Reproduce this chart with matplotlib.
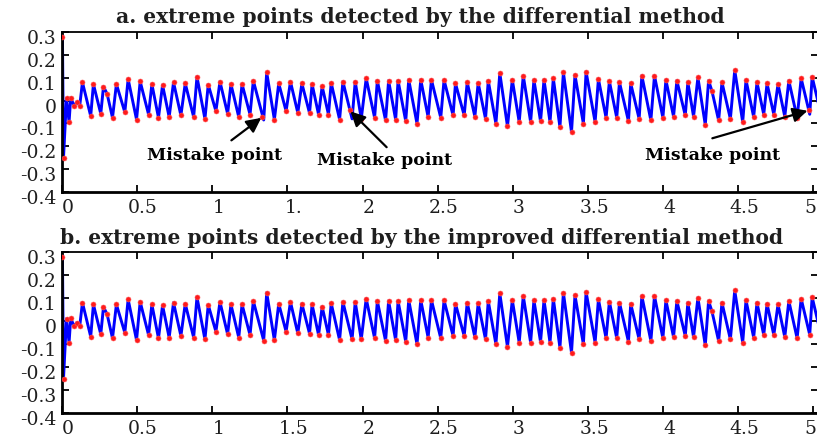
import matplotlib
matplotlib.use('Agg')
import matplotlib.pyplot as plt
import matplotlib.transforms as mtransforms

# ---------------- data ----------------
# true extreme points of the signal (time in s, amplitude)
ext_t = [0.003, 0.010, 0.030, 0.047, 0.058, 0.080, 0.100, 0.118, 0.136,
         0.191, 0.209, 0.258, 0.276, 0.300, 0.336, 0.362, 0.418, 0.440,
         0.496, 0.520, 0.576, 0.598, 0.642, 0.669, 0.713, 0.742, 0.791,
         0.820, 0.876, 0.898, 0.951, 0.973, 1.024, 1.051, 1.102, 1.124,
         1.176, 1.198, 1.251, 1.273, 1.342, 1.362, 1.413, 1.442, 1.491,
         1.520, 1.569, 1.596, 1.647, 1.664, 1.707, 1.731, 1.773, 1.791,
         1.847, 1.869, 1.930, 1.951, 1.991, 2.024, 2.080, 2.098, 2.153,
         2.173, 2.220, 2.236, 2.287, 2.307, 2.362, 2.387, 2.436, 2.458,
         2.520, 2.542, 2.602, 2.618, 2.676, 2.696, 2.747, 2.769, 2.818,
         2.836, 2.887, 2.913, 2.964, 2.996, 3.042, 3.069, 3.118, 3.140,
         3.184, 3.207, 3.247, 3.269, 3.313, 3.336, 3.390, 3.413, 3.469,
         3.487, 3.547, 3.569, 3.620, 3.642, 3.691, 3.709, 3.769, 3.784,
         3.840, 3.858, 3.918, 3.942, 3.998, 4.018, 4.069, 4.091, 4.147,
         4.164, 4.202, 4.231, 4.280, 4.302, 4.324, 4.369, 4.391, 4.447,
         4.476, 4.529, 4.551, 4.602, 4.624, 4.669, 4.691, 4.736, 4.764,
         4.809, 4.836, 4.891, 4.918, 4.975, 4.991]
ext_v = [0.280, -0.250, 0.010, -0.094, 0.012, -0.022, -0.007, -0.022, 0.080,
         -0.068, 0.072, -0.058, 0.061, 0.030, -0.075, 0.072, -0.051, 0.094,
         -0.083, 0.084, -0.061, 0.072, -0.075, 0.068, -0.072, 0.080, -0.065,
         0.075, -0.072, 0.104, -0.080, 0.070, -0.046, 0.083, -0.058, 0.072,
         -0.072, 0.072, -0.061, 0.087, -0.085, 0.123, -0.083, 0.075, -0.046,
         0.083, -0.054, 0.075, -0.055, 0.072, -0.061, 0.062, -0.061, 0.077,
         -0.083, 0.083, -0.080, 0.083, -0.080, 0.097, -0.075, 0.087, -0.087,
         0.087, -0.084, 0.087, -0.090, 0.091, -0.101, 0.091, -0.072, 0.091,
         -0.075, 0.090, -0.065, 0.075, -0.065, 0.080, -0.070, 0.077, -0.080,
         0.087, -0.101, 0.120, -0.113, 0.091, -0.094, 0.109, -0.094, 0.090,
         -0.091, 0.091, -0.094, 0.097, -0.116, 0.123, -0.138, 0.112, -0.101,
         0.126, -0.094, 0.094, -0.075, 0.084, -0.075, 0.080, -0.090, 0.075,
         -0.080, 0.109, -0.087, 0.109, -0.075, 0.090, -0.070, 0.087, -0.065,
         0.080, -0.070, 0.101, -0.106, 0.087, 0.043, -0.087, 0.080, -0.080,
         0.133, -0.094, 0.090, -0.072, 0.080, -0.061, 0.075, -0.061, 0.072,
         -0.070, 0.087, -0.075, 0.097, -0.060, 0.104]
# signal end points
start_t, start_v = 0.0, 0.0
end_t, end_v = 5.03, -0.005

# points wrongly detected by the plain differential method (replace true extrema)
mistake_true_t = [1.342, 1.930, 4.975]
mistake_t = [1.333, 1.913, 4.969]
mistake_v = [-0.072, -0.043, -0.043]

titles = ["a. extreme points detected by the differential method",
          "b. extreme points detected by the improved differential method"]
xticks = [0, 0.5, 1, 1.5, 2, 2.5, 3, 3.5, 4, 4.5, 5]
xlabels_a = ["0", "0.5", "1", "1.", "2", "2.5", "3", "3.5", "4", "4.5", "5"]
xlabels_b = ["0", "0.5", "1", "1.5", "2", "2.5", "3", "3.5", "4", "4.5", "5"]
yticks = [0.3, 0.2, 0.1, 0, -0.1, -0.2, -0.3, -0.4]
ylabels = ["0.3", "0.2", "0.1", "0", "-0.1", "-0.2", "-0.3", "-0.4"]
annot_text = "Mistake point"

# ---------------- figure ----------------
W, H = 817, 438
fig = plt.figure(figsize=(W / 100, H / 100), dpi=100)
SERIF = ['DejaVu Serif', 'Liberation Serif']
TXT = '#1e1e1e'


def ax_rect(left, top, right, bottom):
    return [left / W, 1 - bottom / H, (right - left) / W, (bottom - top) / H]


line_t = [start_t] + ext_t + [end_t]
line_v = [start_v] + ext_v + [end_v]

axes = []
for k, rect in enumerate([ax_rect(62, 32, 818, 192), ax_rect(62, 252, 818, 413)]):
    ax = fig.add_axes(rect)
    ax.plot(line_t, line_v, color='#0000ff', lw=2.1, zorder=2,
            solid_joinstyle='round')
    if k == 0:
        mt, mv = [], []
        for t, v in zip(ext_t, ext_v):
            if t in mistake_true_t:
                i = mistake_true_t.index(t)
                mt.append(mistake_t[i]); mv.append(mistake_v[i])
            else:
                mt.append(t); mv.append(v)
    else:
        mt, mv = ext_t, ext_v
    ax.plot(mt, mv, ls='none', marker='o', ms=3.6, mfc='#ff1a1a', mec='#ff5a5a',
            mew=0.4, zorder=3)
    ax.set_xlim(0, 5.03)
    ax.set_ylim(-0.4, 0.3)
    ax.set_xticks(xticks)
    ax.set_xticklabels(xlabels_a if k == 0 else xlabels_b)
    ax.set_yticks(yticks)
    ax.set_yticklabels(ylabels)
    ax.tick_params(direction='in', top=True, right=True, length=5, width=1.3,
                   labelsize=13.5, colors='black', labelcolor=TXT, pad=3)
    ax.tick_params(axis='x', pad=5)
    for lab in ax.get_xticklabels() + ax.get_yticklabels():
        lab.set_family(SERIF)
    xl = ax.get_xticklabels()
    for j, lab in enumerate(xl):
        dx = 0.06 if j < len(xl) - 1 else -0.035
        lab.set_transform(lab.get_transform() +
                          mtransforms.ScaledTranslation(dx, 0.0, fig.dpi_scale_trans))
    for lab in ax.get_yticklabels():
        lab.set_transform(lab.get_transform() +
                          mtransforms.ScaledTranslation(-0.01, -0.05, fig.dpi_scale_trans))
    for s in ['left', 'bottom']:
        ax.spines[s].set_linewidth(2.0)
    for s in ['top', 'right']:
        ax.spines[s].set_linewidth(1.3)
    axes.append(ax)

fig.text(420 / W, 1 - 17 / H, titles[0], ha='center', va='center',
         family=SERIF, fontweight='bold', fontsize=14.6, color=TXT)
fig.text(422 / W, 1 - 238 / H, titles[1], ha='center', va='center',
         family=SERIF, fontweight='bold', fontsize=14.6, color=TXT)

ax = axes[0]
ann = [((1.013, -0.239), (1.127, -0.174), (1.333, -0.072)),
       ((2.147, -0.262), (2.160, -0.204), (1.913, -0.043)),
       ((4.327, -0.239), (4.327, -0.165), (4.969, -0.043))]
for txy, tail, tip in ann:
    ax.text(txy[0], txy[1], annot_text, ha='center', va='center',
            family=SERIF, fontweight='bold', fontsize=12.5, color='black', zorder=5)
    ax.annotate('', xy=tip, xytext=tail,
                arrowprops=dict(arrowstyle='-|>', color='black', lw=1.6,
                                mutation_scale=22, shrinkA=0, shrinkB=1),
                zorder=5)

fig.savefig('out.png', dpi=100)
